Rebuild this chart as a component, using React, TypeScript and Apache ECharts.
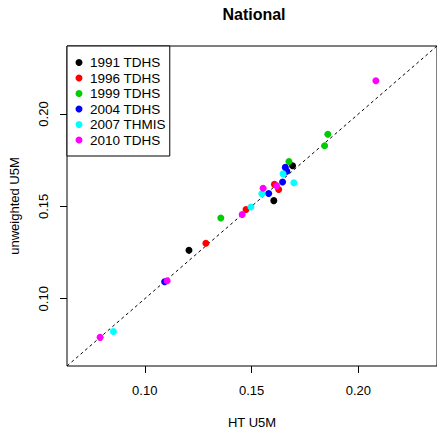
import React, { useEffect, useRef } from "react";
import * as echarts from "echarts";

const seriesNames = ["1991 TDHS", "1996 TDHS", "1999 TDHS", "2004 TDHS", "2007 THMIS", "2010 TDHS"];
const colors = ["#000000", "#FF0000", "#00CD00", "#0000FF", "#00FFFF", "#FF00FF"];

// HT U5M (x) and unweighted U5M (y)
const x1991 = [0.1207, 0.1604, 0.1692];
const y1991 = [0.1262, 0.1531, 0.1720];
const x1996 = [0.1286, 0.1474, 0.1607, 0.1627];
const y1996 = [0.1300, 0.1483, 0.1619, 0.1591];
const x1999 = [0.1356, 0.1675, 0.1842, 0.1857];
const y1999 = [0.1437, 0.1743, 0.1828, 0.1890];
const x2004 = [0.1093, 0.1580, 0.1645, 0.1658, 0.1665];
const y2004 = [0.1092, 0.1570, 0.1632, 0.1711, 0.1690];
const x2007 = [0.0853, 0.1497, 0.1548, 0.1647, 0.1698];
const y2007 = [0.0823, 0.1497, 0.1568, 0.1676, 0.1628];
const x2010 = [0.0791, 0.1105, 0.1456, 0.1554, 0.1617, 0.2082];
const y2010 = [0.0791, 0.1097, 0.1456, 0.1598, 0.1612, 0.2180];

const xs = [x1991, x1996, x1999, x2004, x2007, x2010];
const ys = [y1991, y1996, y1999, y2004, y2007, y2010];

const tickValues = [0.1, 0.15, 0.2];
const axisMin = 0.0636;
const axisMax = 0.2368;

const FONT = "'Liberation Sans', Arial, Helvetica, sans-serif";

export default function App() {
  const ref = useRef<HTMLDivElement>(null);
  useEffect(() => {
    if (!ref.current) return;
    const chart = echarts.init(ref.current, null, { renderer: "svg" });
    const axisCommon = {
      type: "value",
      min: axisMin,
      max: axisMax,
      splitLine: { show: false },
      axisLine: { show: false },
      axisTick: {
        show: true,
        length: 7,
        lineStyle: { color: "#000", width: 1 },
        customValues: tickValues,
      },
      nameLocation: "middle",
      nameTextStyle: { fontFamily: FONT, fontSize: 13, color: "#000" },
    };
    const scatterSeries = seriesNames.map((name, i) => ({
      type: "scatter",
      name,
      data: xs[i].map((v, j) => [v, ys[i][j]]),
      symbol: "circle",
      symbolSize: 7,
      itemStyle: { color: colors[i], opacity: 1 },
      z: 3,
    }));
    chart.setOption({
      animation: false,
      backgroundColor: "#fff",
      grid: {
        left: 67,
        top: 46,
        width: 374,
        height: 326,
        show: true,
        borderColor: "#000",
        borderWidth: 1,
        backgroundColor: "transparent",
      },
      xAxis: {
        ...axisCommon,
        name: "HT U5M",
        nameGap: 50,
        axisLabel: {
          customValues: tickValues,
          formatter: (v: number) => v.toFixed(2),
          fontFamily: FONT,
          fontSize: 13,
          color: "#000",
          margin: 17.5,
        },
      },
      yAxis: {
        ...axisCommon,
        name: "unweighted U5M",
        nameGap: 46,
        axisLabel: {
          customValues: tickValues,
          formatter: (v: number) => v.toFixed(2),
          fontFamily: FONT,
          fontSize: 13,
          color: "#000",
          rotate: 90,
          margin: 17,
        },
      },
      legend: {
        left: 67,
        top: 46,
        orient: "vertical",
        data: seriesNames,
        icon: "circle",
        itemWidth: 7,
        itemHeight: 7,
        itemGap: 0.5,
        padding: [9, 4, 8.5, 8.5],
        borderColor: "#000",
        borderWidth: 1,
        borderRadius: 0,
        backgroundColor: "#fff",
        textStyle: {
          fontFamily: FONT,
          fontSize: 13.5,
          color: "#000",
          lineHeight: 15,
          padding: [0, 0, 0, 2.5],
        },
        selectedMode: false,
      },
      graphic: [
        {
          type: "text",
          x: 254,
          y: 14,
          style: {
            text: "National",
            font: `bold 16px ${FONT}`,
            fill: "#000",
            textAlign: "center",
            textVerticalAlign: "middle",
          },
        },
      ],
      series: [
        {
          type: "line",
          data: [
            [axisMin, axisMin],
            [axisMax, axisMax],
          ],
          symbol: "none",
          lineStyle: { color: "#000", width: 1, type: [3, 3] },
          silent: true,
          z: 1,
        },
        ...scatterSeries,
      ],
    });
    return () => chart.dispose();
  }, []);
  return (
    <div
      ref={ref}
      style={{ position: "fixed", left: 0, top: 0, width: 437, height: 434 }}
    />
  );
}
